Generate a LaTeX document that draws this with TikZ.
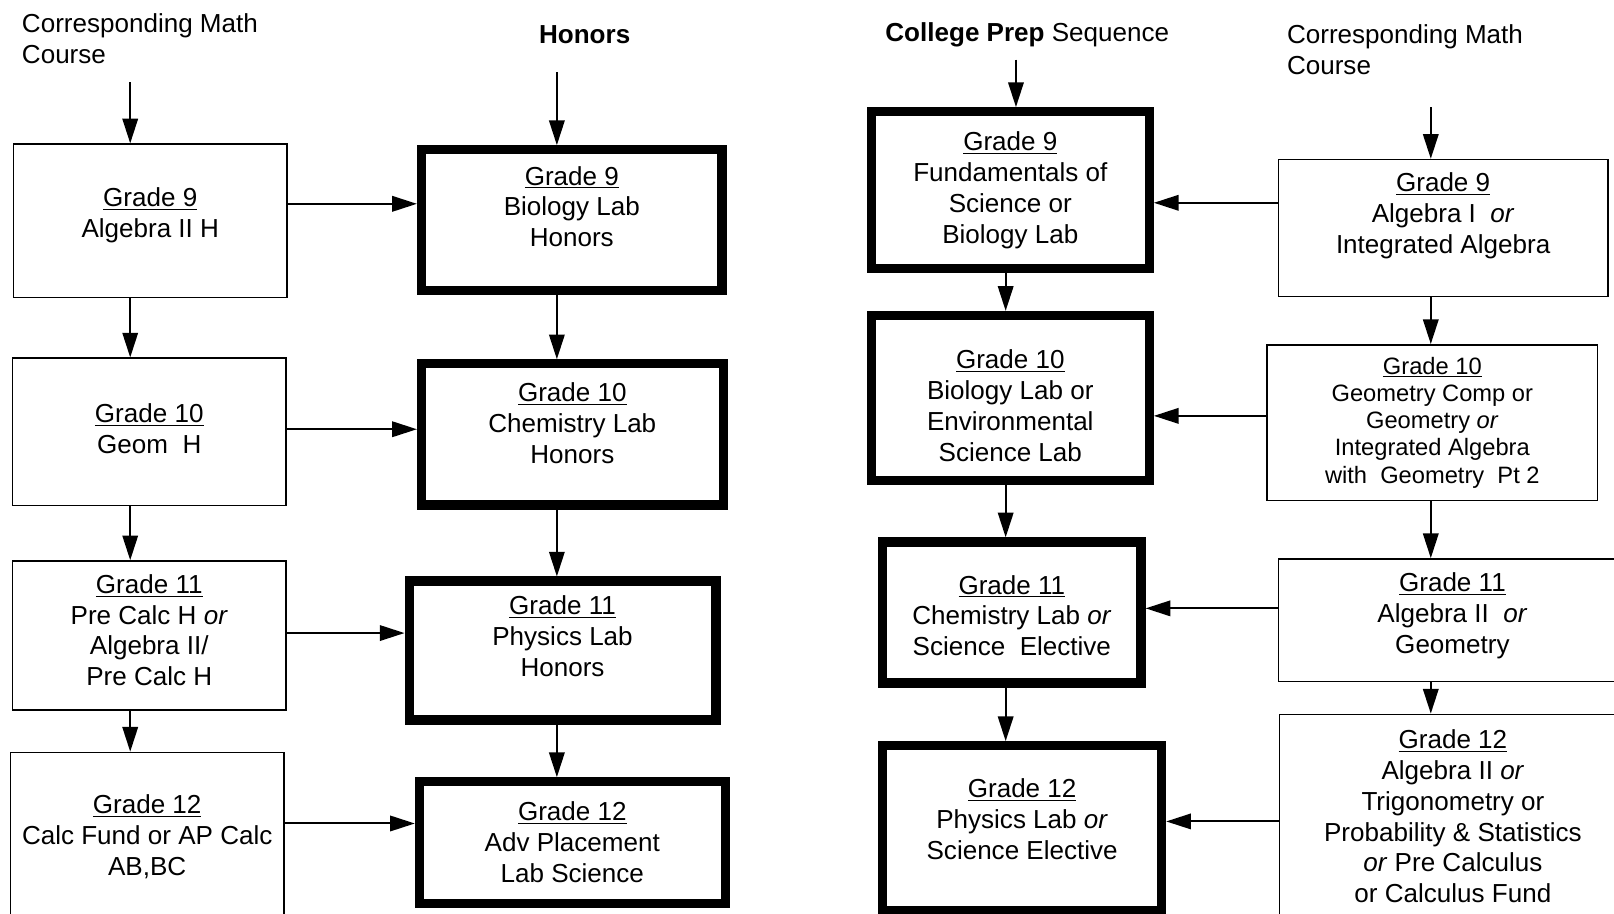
\documentclass[tikz,border=0pt]{standalone}
\usepackage{fontspec}
\setmainfont{Liberation Sans}
\usetikzlibrary{arrows.meta}
\newcommand{\lifted}[2]{\raisebox{#1}[\height][\depth]{\begin{tabular}{@{}c@{}}#2\end{tabular}}}

\begin{document}
\begin{tikzpicture}[x=0.02cm,y=-0.02cm,
	every node/.style={font=\fontsize{14.4}{17.1}\selectfont, align=center},
	boxsize/.style 2 args={minimum width=#1*0.02cm, minimum height=#2*0.02cm},
	mathbox/.style={draw, line width=0.85pt, inner sep=0pt},
	labbox/.style={draw, line width=5.1pt, inner sep=0pt},
	arr/.style={line width=1.1pt, -{Triangle[length=0.48cm,width=0.3cm]}}]
	\useasboundingbox (0,0) rectangle (1568,887);
	\clip (0,0) rectangle (1568,887);
	% headings
	\node[anchor=west, align=left, inner sep=0pt] (mathL) at (21,38) {Corresponding Math\\Course};
	\node (honors) at (568,34) {\textbf{Honors}};
	\node (prep) at (998,34) {\textbf{College Prep} Sequence};
	\node[anchor=west, align=left, inner sep=0pt] (mathR) at (1250,48) {Corresponding Math\\Course};
	\coordinate (colA) at (126.5,80);
	\coordinate (colB) at (541,70);
	\coordinate (colC) at (977,58);
	\coordinate (prepin) at (987,58);
	\coordinate (colD) at (1390,104);
	% math, honors side
	\node[mathbox, boxsize={266}{149}] (m9) at (146,214.5) {\lifted{2.85pt}{\underline{Grade 9}\\Algebra II H}};
	\node[mathbox, boxsize={266}{143}] (m10) at (145,419.5) {\lifted{0pt}{\underline{Grade 10}\\Geom\ \ H}};
	\node[mathbox, boxsize={266}{145}] (m11) at (145,617.5) {\lifted{1.3pt}{\underline{Grade 11}\\Pre Calc H \textit{or}\\Algebra II/\\Pre Calc H}};
	\node[mathbox, boxsize={266}{164}] (m12) at (143,813) {\underline{Grade 12}\\Calc Fund or AP Calc\\AB,BC};
	% honors labs
	\node[labbox, boxsize={292}{137}] (h9) at (555.5,214) {\lifted{5.8pt}{\underline{Grade 9}\\Biology Lab\\Honors}};
	\node[labbox, boxsize={293}{137}] (h10) at (556,422) {\lifted{4.5pt}{\underline{Grade 10}\\Chemistry Lab\\Honors}};
	\node[labbox, boxsize={298}{135}] (h11) at (546.5,632) {\lifted{6pt}{\underline{Grade 11}\\Physics Lab\\Honors}};
	\node[labbox, boxsize={297}{118}] (h12) at (556,818.5) {\underline{Grade 12}\\Adv Placement\\Lab Science};
	% college prep labs
	\node[labbox, boxsize={270}{152}] (c9) at (981.5,184.5) {\underline{Grade 9}\\Fundamentals of\\Science or\\Biology Lab};
	\node[labbox, boxsize={270}{160}] (c10) at (981.5,386.5) {\lifted{-6pt}{\underline{Grade 10}\\Biology Lab or\\Environmental\\Science Lab}};
	\node[labbox, boxsize={251}{137}] (c11) at (983,595) {\lifted{-3.5pt}{\underline{Grade 11}\\Chemistry Lab \textit{or}\\Science\ \ Elective}};
	\node[labbox, boxsize={271}{160}] (c12) at (993,804.5) {\lifted{3.3pt}{\underline{Grade 12}\\Physics Lab \textit{or}\\Science Elective}};
	% math, college prep side
	\node[mathbox, boxsize={320}{133}] (r9) at (1402,221.5) {\lifted{6.3pt}{\underline{Grade 9}\\Algebra I\ \ \textit{or}\\Integrated Algebra}};
	\node[mathbox, boxsize={321}{151}, font=\fontsize{13.1}{15.1}\selectfont] (r10) at (1391.5,410.5) {\underline{Grade 10}\\Geometry Comp or\\Geometry \textit{or}\\Integrated Algebra\\with\ \ Geometry\ \ Pt 2};
	\node[mathbox, boxsize={338}{119}] (r11) at (1411,602.5) {\lifted{2pt}{\underline{Grade 11}\\Algebra II\ \ \textit{or}\\Geometry}};
	\node[mathbox, boxsize={337}{198}] (r12) at (1411.5,793) {\underline{Grade 12}\\Algebra II \textit{or}\\Trigonometry or\\Probability \& Statistics\\\textit{or} Pre Calculus\\or Calculus Fund};
	% arrows
	\draw[arr] (colA) -- (colA |- m9.north);
	\draw[arr] (colB) -- (colB |- h9.north);
	\draw[arr] (prepin) -- (prepin |- c9.north);
	\draw[arr] (colD) -- (colD |- r9.north);
	\foreach \a/\b/\c in {m9/m10/colA, m10/m11/colA, m11/m12/colA,
		h9/h10/colB, h10/h11/colB, h11/h12/colB,
		c9/c10/colC, c10/c11/colC, c11/c12/colC,
		r9/r10/colD, r10/r11/colD, r11/r12/colD}
		\draw[arr] (\a.south -| \c) -- (\b.north -| \c);
	\foreach \a/\b/\y in {m9/h9/198, m10/h10/417, m11/h11/615, m12/h12/800}
		\draw[arr] (\a.east |- 0,\y) -- (\b.west |- 0,\y);
	\foreach \a/\b/\y in {r9/c9/197, r10/c10/404, r11/c11/591, r12/c12/798}
		\draw[arr] (\a.west |- 0,\y) -- (\b.east |- 0,\y);
\end{tikzpicture}
\end{document}
